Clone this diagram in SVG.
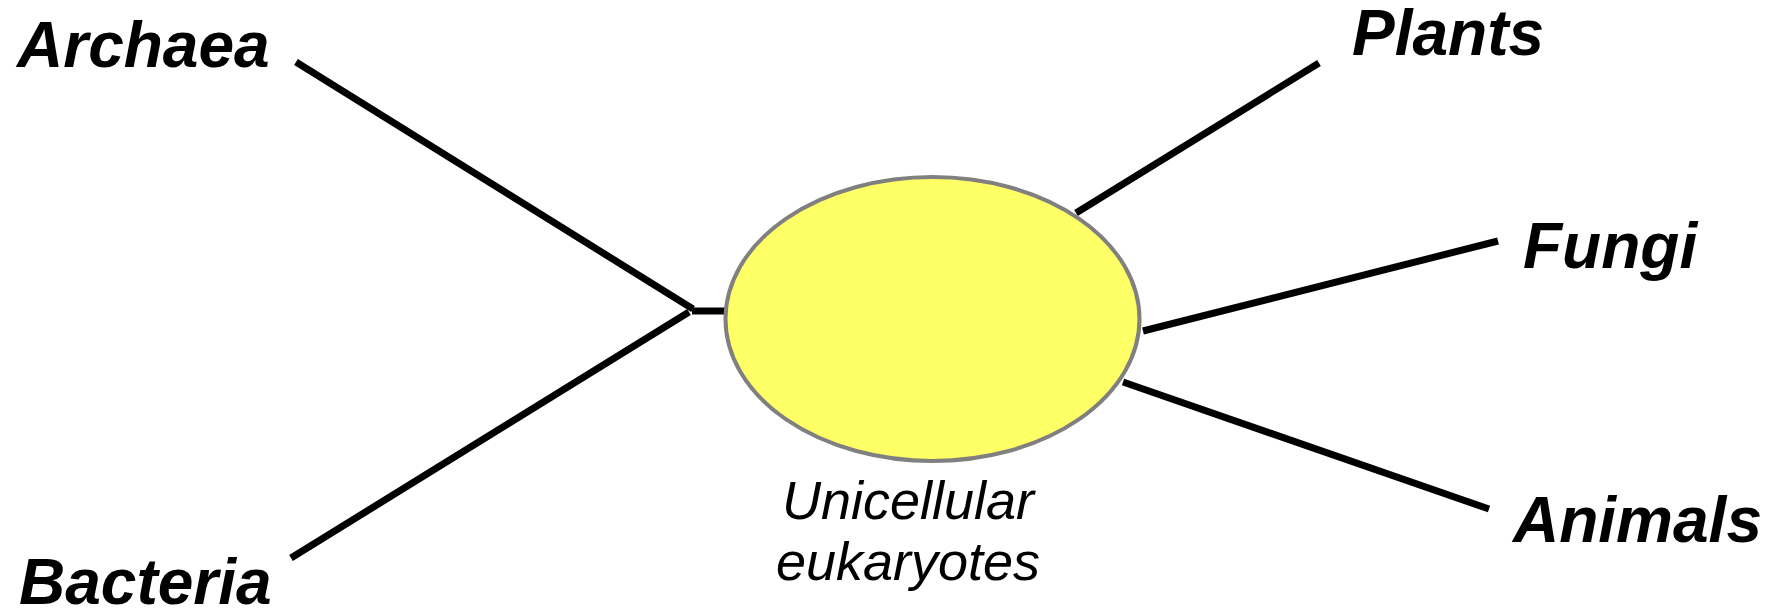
<svg xmlns="http://www.w3.org/2000/svg" width="1778" height="614" viewBox="0 0 1778 614">
  <style>
    .branch { stroke: #000; stroke-width: 7; fill: none; }
    .taxon { font-family: "Liberation Sans", Arial, sans-serif; font-weight: bold; font-style: italic; font-size: 64px; fill: #000; }
    .caption { font-family: "Liberation Sans", Arial, sans-serif; font-style: italic; font-size: 54px; fill: #000; text-anchor: middle; }
    .cell { fill: #ffff66; stroke: #808080; stroke-width: 4; }
  </style>
  <rect width="1778" height="614" fill="#fff"/>

  <!-- branches of the tree -->
  <g id="connectors">
    <line class="branch" x1="296" y1="62" x2="693" y2="309"/>
    <line class="branch" x1="291" y1="558" x2="689" y2="312"/>
    <line class="branch" x1="692" y1="311" x2="726" y2="311"/>
    <line class="branch" x1="1076" y1="213" x2="1319" y2="63"/>
    <line class="branch" x1="1143" y1="331" x2="1498" y2="241"/>
    <line class="branch" x1="1123" y1="382" x2="1489" y2="509"/>
  </g>

  <g id="unicellular-eukaryotes">
    <ellipse class="cell" cx="932.5" cy="319" rx="207" ry="142"/>
    <text class="caption" x="908" y="519">Unicellular</text>
    <text class="caption" x="908" y="580">eukaryotes</text>
  </g>

  <g id="archaea">
    <text class="taxon" x="17" y="67">Archaea</text>
  </g>
  <g id="bacteria">
    <text class="taxon" x="19" y="604">Bacteria</text>
  </g>
  <g id="plants">
    <text class="taxon" x="1352" y="55">Plants</text>
  </g>
  <g id="fungi">
    <text class="taxon" x="1523" y="268">Fungi</text>
  </g>
  <g id="animals">
    <text class="taxon" x="1513" y="542">Animals</text>
  </g>
</svg>
